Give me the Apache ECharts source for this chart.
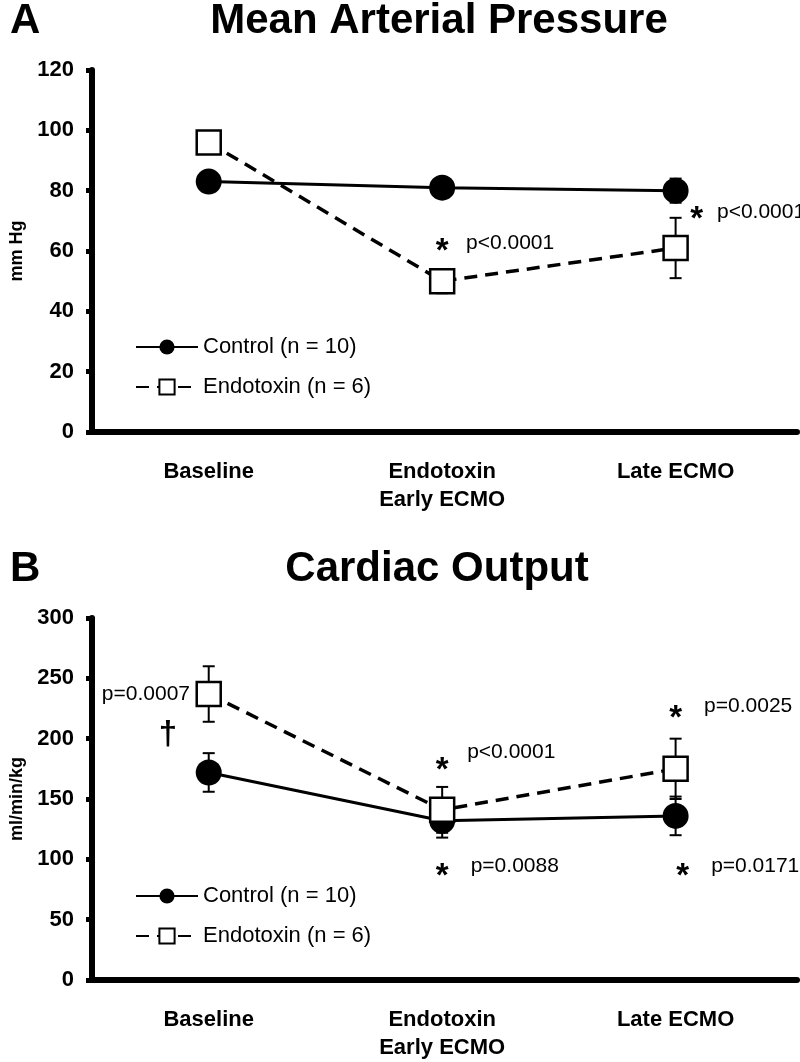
<!DOCTYPE html>
<html>
<head>
<meta charset="utf-8">
<script src="https://cdn.jsdelivr.net/npm/echarts@6/dist/echarts.min.js"></script>
<style>
  html, body { margin: 0; padding: 0; background: #fff; }
  #chart { width: 800px; height: 1062px; }
</style>
</head>
<body>
<div id="chart"></div>
<script>
// categories on the x axis (both panels)
const categories = ["Baseline", "Endotoxin\nEarly ECMO", "Late ECMO"];
const seriesNames = ["Control (n = 10)", "Endotoxin (n = 6)"];

// A - mean arterial pressure (mm Hg), mean and SE
const controlMap = [83, 81, 80];
const controlMapSe = [2, 3, 4];
const endoMap = [96, 50, 61];
const endoMapSe = [2, 4, 10];

// B - cardiac output (ml/min/kg), mean and SE
const controlCo = [172, 132, 136];
const controlCoSe = [16, 14, 16];
const endoCo = [237, 141, 175];
const endoCoSe = [23, 19, 25];

// significance marks, anchored in data space [x, y, text]
const marksA = [[1, 62, "*"], [2.09, 72.6, "*"]];
const notesA = [[1.1, 62.6, "p<0.0001"], [2.175, 73, "p<0.0001"]];
const marksB = [[1, 179, "*"], [1, 91, "*"], [2, 222, "*"], [2.03, 91, "*"], [-0.175, 209, "†"]];
const notesB = [
  [-0.46, 237, "p=0.0007"],
  [1.105, 189, "p<0.0001"],
  [1.12, 94, "p=0.0088"],
  [2.12, 227, "p=0.0025"],
  [2.15, 94, "p=0.0171"],
];

const FONT = "Arial, 'Liberation Sans', Helvetica, sans-serif";

let chartDom = document.getElementById("chart");
let myChart = echarts.init(chartDom);

const pts = (vals) => vals.map((v, i) => [i, v]);
const errs = (vals, se) => vals.map((v, i) => [i, v, se[i]]);

// error bar: vertical whisker with caps
const renderErr = (params, api) => {
  const x = api.value(0);
  const m = api.value(1);
  const e = api.value(2);
  const hi = api.coord([x, m + e]);
  const lo = api.coord([x, m - e]);
  const w = 6;
  const st = { stroke: "#000", lineWidth: 2 };
  return {
    type: "group",
    children: [
      { type: "line", shape: { x1: hi[0], y1: hi[1], x2: lo[0], y2: lo[1] }, style: st },
      { type: "line", shape: { x1: hi[0] - w, y1: hi[1], x2: hi[0] + w, y2: hi[1] }, style: st },
      { type: "line", shape: { x1: lo[0] - w, y1: lo[1], x2: lo[0] + w, y2: lo[1] }, style: st },
    ],
  };
};

// invisible points that only carry a text label
const textSeries = (g, items, label) => ({
  type: "scatter",
  xAxisIndex: g,
  yAxisIndex: g,
  symbolSize: 1,
  itemStyle: { color: "rgba(0,0,0,0)", opacity: 1 },
  silent: true,
  data: items.map((d) => ({ value: [d[0], d[1]], name: d[2] })),
  label: Object.assign(
    { show: true, formatter: (p) => p.name, fontFamily: FONT, color: "#000", opacity: 1 },
    label
  ),
  z: 5,
});

const panelSeries = (g, ctrl, ctrlSe, endo, endoSe, marks, notes) => [
  {
    type: "custom",
    xAxisIndex: g,
    yAxisIndex: g,
    renderItem: renderErr,
    data: errs(ctrl, ctrlSe),
    z: 1,
  },
  {
    type: "custom",
    xAxisIndex: g,
    yAxisIndex: g,
    renderItem: renderErr,
    data: errs(endo, endoSe),
    z: 1,
  },
  {
    type: "line",
    name: seriesNames[0],
    xAxisIndex: g,
    yAxisIndex: g,
    data: pts(ctrl),
    symbol: "circle",
    symbolSize: 26,
    lineStyle: { color: "#000", width: 3 },
    itemStyle: { color: "#000" },
    z: 3,
  },
  {
    type: "line",
    name: seriesNames[1],
    xAxisIndex: g,
    yAxisIndex: g,
    data: pts(endo),
    symbol: "rect",
    symbolSize: 24,
    lineStyle: { color: "#000", width: 3.5, type: [13, 8] },
    itemStyle: { color: "#fff", borderColor: "#000", borderWidth: 2.5 },
    z: 4,
  },
  // stars and dagger
  textSeries(g, marks, { position: "inside", fontWeight: "bold", fontSize: 33, offset: [0, 7] }),
  // p values
  textSeries(g, notes, { position: "right", distance: 0, fontSize: 21 }),
];

const xAxisFor = (g) => ({
  type: "value",
  gridIndex: g,
  min: -0.5,
  max: 2.52,
  axisLine: { show: true, onZero: false, lineStyle: { color: "#000", width: 6 } },
  axisTick: { show: false },
  splitLine: { show: false },
  axisLabel: {
    customValues: [0, 1, 2],
    formatter: (v) => categories[Math.round(v)],
    fontFamily: FONT,
    fontWeight: "bold",
    fontSize: 22,
    lineHeight: 28,
    color: "#000",
    margin: 26,
  },
});

const yAxisFor = (g, max, interval, name) => ({
  type: "value",
  gridIndex: g,
  min: 0,
  max: max,
  interval: interval,
  name: name,
  nameLocation: "middle",
  nameGap: 66,
  nameTextStyle: { fontFamily: FONT, fontWeight: "bold", fontSize: 18, color: "#000" },
  axisLine: { show: true, onZero: false, lineStyle: { color: "#000", width: 6 } },
  axisTick: { show: true, length: 6, lineStyle: { color: "#000", width: 5 } },
  splitLine: { show: false },
  axisLabel: {
    fontFamily: FONT,
    fontWeight: "bold",
    fontSize: 22,
    color: "#000",
    margin: 18,
  },
});

const legendFor = (top) => ({
  orient: "vertical",
  left: 130,
  top: top,
  itemWidth: 62,
  itemHeight: 19,
  itemGap: 18,
  data: seriesNames,
  textStyle: { fontFamily: FONT, fontSize: 22, color: "#000" },
  selectedMode: false,
});

const titleText = (x, y, text, align) => ({
  type: "text",
  x: x,
  y: y,
  style: {
    text: text,
    fontFamily: FONT,
    fontWeight: "bold",
    fontSize: 42,
    fill: "#000",
    align: align,
    verticalAlign: "middle",
  },
});

let option = {
  animation: false,
  backgroundColor: "#fff",
  grid: [
    { left: 90, right: 3, top: 70, height: 362 },
    { left: 90, right: 3, top: 618, height: 364 },
  ],
  xAxis: [xAxisFor(0), xAxisFor(1)],
  yAxis: [yAxisFor(0, 120, 20, "mm Hg"), yAxisFor(1, 300, 50, "ml/min/kg")],
  legend: [legendFor(331), legendFor(880)],
  graphic: [
    titleText(10, 21, "A", "left"),
    titleText(439, 21, "Mean Arterial Pressure", "center"),
    titleText(10, 569, "B", "left"),
    titleText(437, 569, "Cardiac Output", "center"),
  ],
  series: [
    ...panelSeries(0, controlMap, controlMapSe, endoMap, endoMapSe, marksA, notesA),
    ...panelSeries(1, controlCo, controlCoSe, endoCo, endoCoSe, marksB, notesB),
  ],
};

option && myChart.setOption(option);
</script>
</body>
</html>
